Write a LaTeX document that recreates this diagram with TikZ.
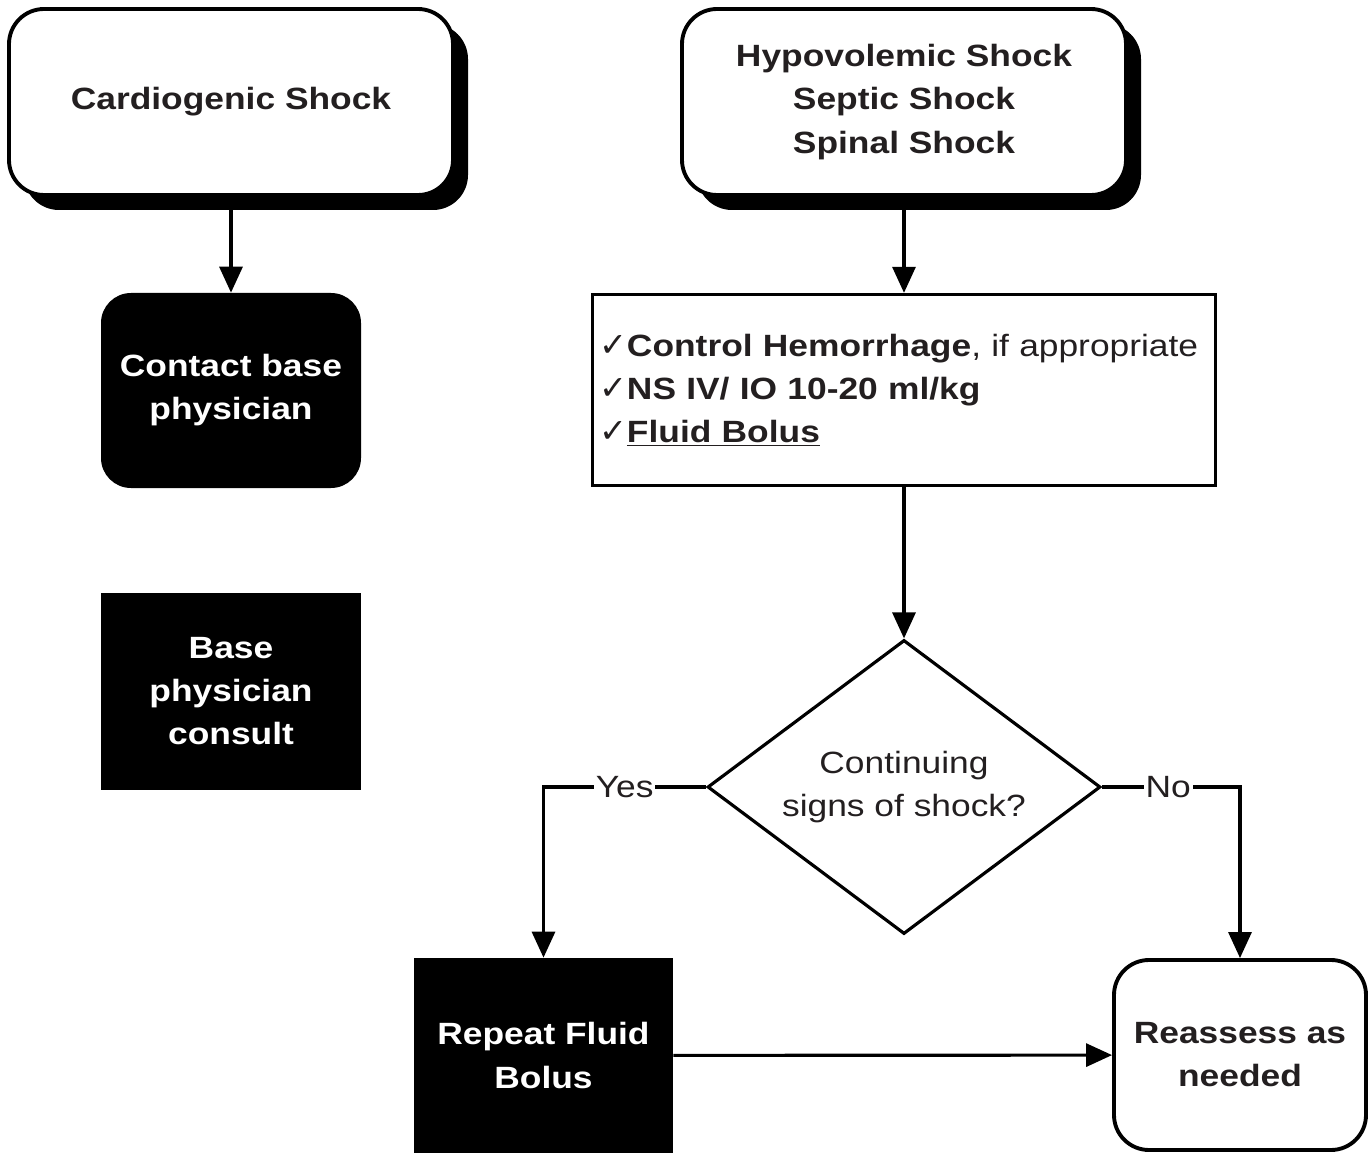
\documentclass[tikz,border=0pt]{standalone}
\usepackage{fontspec}
\setmainfont[FakeStretch=1.15]{Liberation Sans}
\newfontfamily\tickfont{DejaVu Sans}
\usetikzlibrary{arrows.meta,shapes.geometric,shadows}
\definecolor{txtgray}{HTML}{231F20}
\newcommand{\tickmark}{{\tickfont\fontsize{19}{19}\selectfont ✓}}

\begin{document}
\begin{tikzpicture}[
    font=\fontsize{17.5}{24.5}\selectfont,
    shockbox/.style={draw, line width=2.2pt, rounded corners=0.7cm, fill=white,
        text=txtgray, font=\bfseries\fontsize{17.5}{24.5}\selectfont, align=center,
        minimum width=8.88cm, minimum height=3.72cm,
        drop shadow={shadow xshift=0.3cm, shadow yshift=-0.3cm, fill=black, opacity=1}},
    blackbox/.style={fill=black, text=white, font=\bfseries\fontsize{17.5}{24.5}\selectfont,
        align=center, minimum width=5.2cm, minimum height=3.9cm},
    arr/.style={-{Triangle[length=0.52cm,width=0.46cm]}, line width=1.8pt},
    lbl/.style={fill=white, inner sep=1pt, text=txtgray}
]
    % Frame of the page
    \useasboundingbox (0,0) rectangle (27.44,-23.24);

    % Shock types
    \node[shockbox] (cardio) at (4.62,-2.04) {Cardiogenic Shock};
    \node[shockbox] (hypo) at (18.08,-2.04) {Hypovolemic Shock\\Septic Shock\\Spinal Shock};

    % Left column
    \node[blackbox, rounded corners=0.6cm] (contact) at (4.62,-7.81) {Contact base\\physician};
    \node[blackbox, minimum height=3.94cm] (consult) at (4.62,-13.83) {Base\\physician\\consult};

    % Treatment list
    \node[draw, line width=1.9pt, minimum width=12.46cm, minimum height=3.82cm,
          text width=12.2cm, align=left, text=txtgray] (check) at (18.08,-7.80)
        {\tickmark\textbf{Control Hemorrhage}, if appropriate\\
         \tickmark\textbf{NS IV/ IO 10-20 ml/kg}\\
         \tickmark\textbf{\underline{Fluid Bolus}}};

    % Decision
    \node[draw, diamond, line width=1.8pt, inner sep=0pt, aspect=1.33,
          minimum width=7.86cm, minimum height=5.88cm, align=center,
          text=txtgray] (decide) at (18.08,-15.74) {Continuing\\signs of shock?};

    % Outcomes
    \node[blackbox, minimum width=5.18cm] (rebolus) at (10.87,-21.11) {Repeat Fluid\\Bolus};
    \node[draw, line width=2.2pt, rounded corners=0.7cm, text=txtgray, align=center,
          font=\bfseries\fontsize{17.5}{24.5}\selectfont,
          minimum width=5.04cm, minimum height=3.8cm] (reassess) at (24.80,-21.10)
        {Reassess as\\needed};

    % Connectors
    \draw[arr] (cardio) -- (contact);
    \draw[arr] (hypo) -- (check);
    \draw[arr] (check) -- (decide);
    \draw[arr] (decide.west) -| node[lbl, pos=0.25] {Yes} (rebolus.north);
    \draw[arr] (decide.east) -| node[lbl, pos=0.24] {No} (reassess.north);
    \draw[arr] (rebolus) -- (reassess);
\end{tikzpicture}
\end{document}
